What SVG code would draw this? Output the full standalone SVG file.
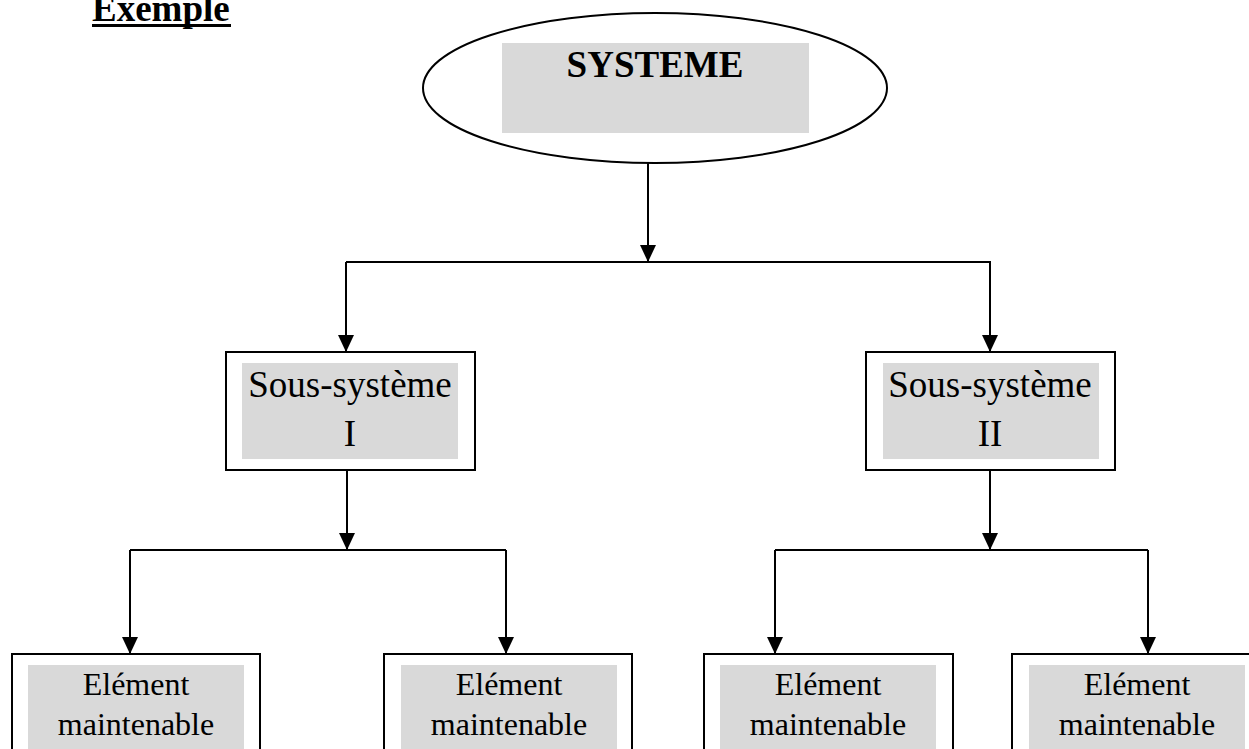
<svg xmlns="http://www.w3.org/2000/svg" width="1249" height="749" viewBox="0 0 1249 749">
  <style>
    .frame { fill: #ffffff; stroke: #000000; stroke-width: 2; }
    .shade { fill: #d9d9d9; stroke: none; }
    .wire { fill: none; stroke: #000000; stroke-width: 2; }
    .t { font-family: "Liberation Serif", "Times New Roman", serif; fill: #000000; text-anchor: middle; }
    .big { font-size: 37px; }
    .small { font-size: 32px; }
  </style>

  <!-- heading with a heavy underline -->
  <g id="heading">
    <text x="92" y="21" font-family="Liberation Serif, Times New Roman, serif" font-size="37" font-weight="bold">Exemple</text>
    <rect x="92" y="24" width="139" height="3" fill="#000000"/>
  </g>

  <!-- connectors -->
  <g id="connectors" class="wire">
    <path d="M648,163 L648,262"/>
    <path d="M346,262 L991,262"/>
    <path d="M346,262 L346,352"/>
    <path d="M990,262 L990,352"/>
    <path d="M347,470 L347,550"/>
    <path d="M130,550 L506,550"/>
    <path d="M130,550 L130,654"/>
    <path d="M506,550 L506,654"/>
    <path d="M990,470 L990,550"/>
    <path d="M775,550 L1148,550"/>
    <path d="M775,550 L775,654"/>
    <path d="M1148,550 L1148,654"/>
  </g>
  <g id="arrowheads" fill="#000000">
    <path d="M640,245 L656,245 L648,262 Z"/>
    <path d="M338,335 L354,335 L346,352 Z"/>
    <path d="M982,335 L998,335 L990,352 Z"/>
    <path d="M339,533 L355,533 L347,550 Z"/>
    <path d="M982,533 L998,533 L990,550 Z"/>
    <path d="M122,637 L138,637 L130,654 Z"/>
    <path d="M498,637 L514,637 L506,654 Z"/>
    <path d="M767,637 L783,637 L775,654 Z"/>
    <path d="M1140,637 L1156,637 L1148,654 Z"/>
  </g>

  <g id="systeme">
    <ellipse class="frame" cx="655" cy="88" rx="232" ry="75"/>
    <rect class="shade" x="502" y="43" width="307" height="90"/>
    <text class="t big" x="655" y="77" font-weight="bold">SYSTEME</text>
  </g>

  <g id="sous-systeme-1">
    <rect class="frame" x="226" y="352" width="249" height="118"/>
    <rect class="shade" x="242" y="363" width="216" height="96"/>
    <text class="t big" x="350" y="397">Sous-système</text>
    <text class="t big" x="350" y="446">I</text>
  </g>

  <g id="sous-systeme-2">
    <rect class="frame" x="866" y="352" width="249" height="118"/>
    <rect class="shade" x="883" y="363" width="216" height="96"/>
    <text class="t big" x="990" y="397">Sous-système</text>
    <text class="t big" x="990" y="446">II</text>
  </g>

  <g id="element-1">
    <rect class="frame" x="12" y="654" width="248" height="110"/>
    <rect class="shade" x="28" y="665" width="216" height="84"/>
    <text class="t small" x="136" y="695">Elément</text>
    <text class="t small" x="136" y="735">maintenable</text>
  </g>

  <g id="element-2">
    <rect class="frame" x="384" y="654" width="248" height="110"/>
    <rect class="shade" x="401" y="665" width="216" height="84"/>
    <text class="t small" x="509" y="695">Elément</text>
    <text class="t small" x="509" y="735">maintenable</text>
  </g>

  <g id="element-3">
    <rect class="frame" x="704" y="654" width="249" height="110"/>
    <rect class="shade" x="720" y="665" width="216" height="84"/>
    <text class="t small" x="828" y="695">Elément</text>
    <text class="t small" x="828" y="735">maintenable</text>
  </g>

  <g id="element-4">
    <rect class="frame" x="1012" y="654" width="260" height="110"/>
    <rect class="shade" x="1029" y="665" width="216" height="84"/>
    <text class="t small" x="1137" y="695">Elément</text>
    <text class="t small" x="1137" y="735">maintenable</text>
  </g>
</svg>
